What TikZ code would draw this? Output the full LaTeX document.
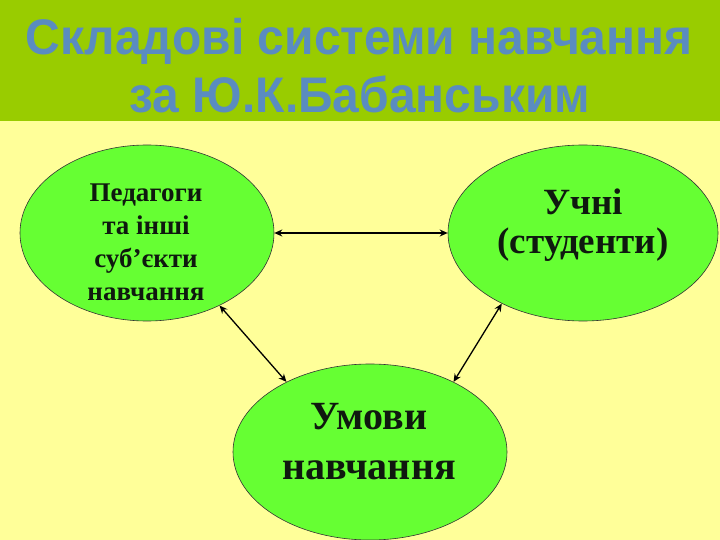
\documentclass[tikz,border=0pt]{standalone}
\usepackage{fontspec}
\setmainfont{Liberation Serif}
\newfontfamily\titlefont{Liberation Sans}
\usetikzlibrary{shapes.geometric,arrows.meta}
\definecolor{bandgreen}{RGB}{153,204,0}
\definecolor{bgyellow}{RGB}{255,255,153}
\definecolor{titleblue}{RGB}{90,140,192}
\definecolor{ellgreen}{RGB}{102,255,51}
\definecolor{txtdark}{RGB}{15,25,15}
\tikzset{
  blob/.style={ellipse, draw=black!80, line width=0.6pt, fill=ellgreen, inner sep=0pt},
  lbl/.style={align=center, text=txtdark, font=\bfseries, inner sep=0pt},
  link/.style={draw=black, line width=1.8pt, {Stealth[length=8pt,width=7pt]}-{Stealth[length=8pt,width=7pt]}},
  ttl/.style={text=titleblue, font=\titlefont\bfseries\fontsize{50}{60}\selectfont, inner sep=0pt, anchor=base}
}
\begin{document}
\begin{tikzpicture}[x=1pt,y=-1pt]
\useasboundingbox (0,0) rectangle (720,540);
\fill[bgyellow] (0,0) rectangle (720,540);
\fill[bandgreen] (0,0) rectangle (720,121);
\node[ttl] (t1) at (359,55) {\scalebox{0.96}[1]{Складові системи навчання}};
\node[ttl] (t2) at (360,113) {\scalebox{0.96}[1]{за Ю.К.Бабанським}};

\node[blob, minimum width=254pt, minimum height=176pt] (L) at (147,233) {};
\node[blob, minimum width=270pt, minimum height=176pt] (R) at (583,233) {};
\node[blob, minimum width=274pt, minimum height=176pt] (B) at (370,452) {};

\node[lbl, font=\bfseries\fontsize{27}{33}\selectfont, anchor=base] (Lt) at (146,300)
  {Педагоги\\та інші\\суб’єкти\\навчання};
\node[lbl, font=\bfseries\fontsize{37}{39}\selectfont, anchor=base] (Rt) at (583,253)
  {Учні\\(студенти)};
\node[lbl, font=\bfseries\fontsize{40}{50}\selectfont, anchor=base] (Bt) at (369,479)
  {Умови\\навчання};

\draw[link] (L.east) -- (R.west);
\draw[link, line width=1.3pt] (L.-45) -- (B.140);
\draw[link, line width=1.3pt] (R.-139) -- (B.40);
\end{tikzpicture}
\end{document}
